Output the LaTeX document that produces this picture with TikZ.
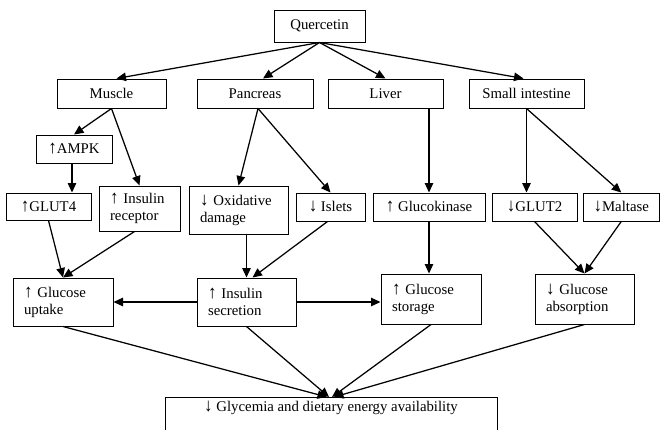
\documentclass[tikz,border=0pt]{standalone}
\usepackage{fontspec}
\setmainfont{Liberation Serif}
\usetikzlibrary{arrows.meta,calc}
\newcommand\uparr{\scalebox{1.15}[1.25]{↑}}
\newcommand\dnarr{\scalebox{1.15}[1.25]{↓}}
\begin{document}
\begin{tikzpicture}[x=1pt,y=-1pt,
 box/.style={draw, line width=1pt, inner sep=0pt, font=\fontsize{14.8}{17}\selectfont, align=center},
 mbox/.style={box, align=left, inner xsep=11pt},
 arr/.style={line width=1.25pt, -{Triangle[length=9.5pt,width=8.5pt]}}]
\useasboundingbox (0,0) rectangle (660,429);
\node[box, minimum width=91pt, minimum height=32pt] (q) at (319.5,26) {Quercetin};
\node[box, minimum width=109pt, minimum height=29pt] (mu) at (111.5,93.5) {Muscle};
\node[box, minimum width=116pt, minimum height=29pt] (pa) at (255,93.5) {Pancreas};
\node[box, minimum width=115pt, minimum height=29pt] (li) at (385.5,93.5) {Liver};
\node[box, minimum width=115pt, minimum height=29pt] (si) at (526.5,93.5) {Small intestine};
\node[box, minimum width=76pt, minimum height=28pt] (ampk) at (74,149) {\uparr AMPK};
\node[box, minimum width=85pt, minimum height=27pt] (g4) at (48.5,206.5) {\uparr GLUT4};
\node[mbox, text width=59pt, minimum height=45pt] (ir) at (139.5,208.5) {\uparr\ Insulin\\receptor};
\node[mbox, text width=77pt, minimum height=48pt] (ox) at (238.5,210) {\dnarr\ Oxidative\\damage};
\node[box, minimum width=69pt, minimum height=28pt] (isl) at (330.5,207) {\dnarr\ Islets};
\node[box, minimum width=112pt, minimum height=28pt] (gk) at (429,207) {\uparr\ Glucokinase};
\node[box, minimum width=85pt, minimum height=28pt] (g2) at (534.5,207) {\dnarr GLUT2};
\node[box, minimum width=76.5pt, minimum height=28pt] (mal) at (621.25,207) {\dnarr Maltase};
\node[mbox, text width=78pt, minimum height=48pt] (gu) at (63,302) {\uparr\ Glucose\\uptake};
\node[mbox, text width=77pt, minimum height=48pt] (ins) at (246.5,302) {\uparr\ Insulin\\secretion};
\node[mbox, text width=78pt, minimum height=50pt] (st) at (431,299) {\uparr\ Glucose\\storage};
\node[mbox, text width=77pt, minimum height=50pt] (ab) at (584.5,299) {\dnarr\ Glucose\\absorption};
\node[box, anchor=north, inner ysep=4pt, minimum width=332pt] (gl) at (331,397) {\dnarr\ Glycemia and dietary energy availability\\ \mbox{}};
\draw[arr] (q.south) -- ([xshift=5pt]mu.north);
\draw[arr] (q.south) -- ([xshift=8pt]pa.north);
\draw[arr] (q.south) -- (li.north);
\draw[arr] (q.south) -- ([xshift=-3pt]si.north);
\draw[arr] (mu.south) -- (ampk.north);
\draw[arr] (mu.south) -- (ir.north);
\draw[arr] ([xshift=-2pt]ampk.south) -- ([xshift=-2pt]ampk.south |- g4.north);
\draw[arr] ([xshift=3pt]pa.south) -- (ox.north);
\draw[arr] ([xshift=3pt]pa.south) -- (isl.north);
\draw[arr] (li.south -| gk.north) -- (gk.north);
\draw[arr] (si.south) -- (si.south |- g2.north);
\draw[arr] (si.south) -- (mal.north);
\draw[arr] (g4.south) -- (gu.north);
\draw[arr] ([xshift=-5pt]ir.south) -- (gu.north);
\draw[arr] (ins.north |- ox.south) -- (ins.north);
\draw[arr] ([xshift=-3pt]isl.south) -- ([xshift=6pt]ins.north);
\draw[arr] (gk.south) -- (gk.south |- st.north);
\draw[arr] (g2.south) -- (ab.north);
\draw[arr] (mal.south) -- (ab.north);
\draw[arr] (ins.west) -- (gu.east);
\draw[arr] (ins.east) -- (ins.east -| st.west);
\draw[arr] (gu.south) -- ([xshift=-4pt]gl.north);
\draw[arr] (ins.south) -- ([xshift=-2pt]gl.north);
\draw[arr] (st.south) -- ([xshift=1pt]gl.north);
\draw[arr] (ab.south) -- ([xshift=3pt]gl.north);
\end{tikzpicture}
\end{document}
